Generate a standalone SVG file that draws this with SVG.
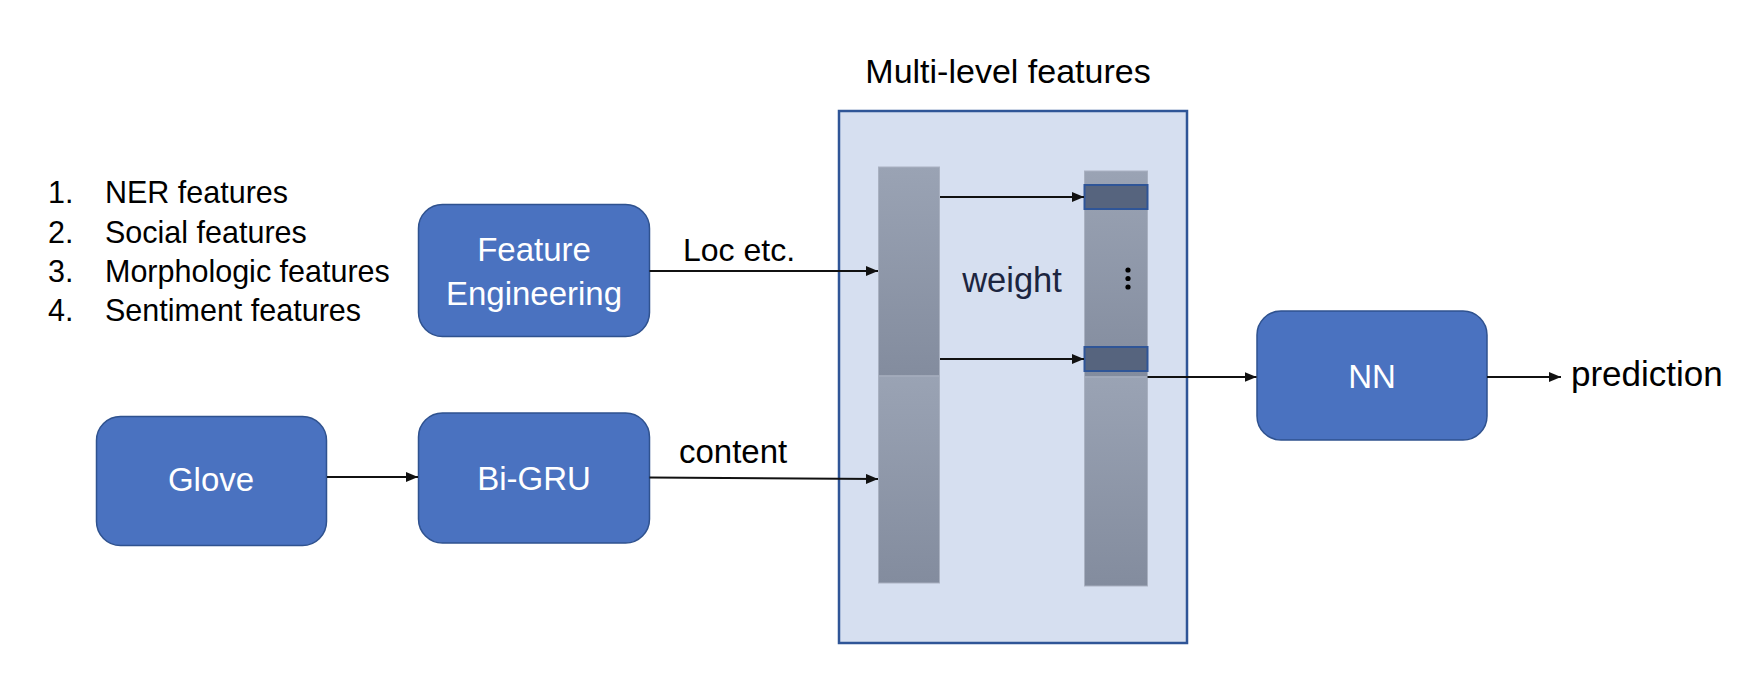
<svg xmlns="http://www.w3.org/2000/svg" width="1754" height="682" viewBox="0 0 1754 682">
<defs>
  <linearGradient id="bar" x1="0" y1="0" x2="0" y2="1">
    <stop offset="0" stop-color="#9AA3B4"/>
    <stop offset="1" stop-color="#838C9E"/>
  </linearGradient>
  <marker id="ah" viewBox="0 0 12 10" refX="12" refY="5" markerWidth="12" markerHeight="10" markerUnits="userSpaceOnUse" orient="auto">
    <path d="M0,0 L12,5 L0,10 z" fill="#111"/>
  </marker>
</defs>
<style>
  .node rect{fill:#4A72C0;stroke:#2F528F;stroke-width:1.5}
  .lbl{font-family:"Liberation Sans",Arial,sans-serif;fill:#fff;font-size:33px;text-anchor:middle}
  .txt{font-family:"Liberation Sans",Arial,sans-serif;fill:#000}
  .seg{fill:url(#bar);stroke:#A9B1C1;stroke-width:1}
  .cell{fill:#56647E;stroke:#2F5597;stroke-width:2}
  #connectors line{stroke:#111;stroke-width:2;marker-end:url(#ah)}
</style>
<rect width="1754" height="682" fill="#fff"/>

<g id="list" class="txt" font-size="30.5">
  <text x="48" y="203">1.</text><text x="105" y="203">NER features</text>
  <text x="48" y="242.5">2.</text><text x="105" y="242.5">Social features</text>
  <text x="48" y="281.5">3.</text><text x="105" y="281.5">Morphologic features</text>
  <text x="48" y="320.5">4.</text><text x="105" y="320.5">Sentiment features</text>
</g>

<g id="multilevel">
  <text class="txt" x="1008" y="83" font-size="34" text-anchor="middle">Multi-level features</text>
  <rect x="839" y="111" width="348" height="532" fill="#D6DFF0" stroke="#2F5597" stroke-width="2.5"/>
  <rect class="seg" x="878.5" y="167" width="61" height="209"/>
  <rect class="seg" x="878.5" y="376" width="61" height="207"/>
  <rect class="seg" x="1084.5" y="171" width="63" height="206"/>
  <rect class="seg" x="1084.5" y="377" width="63" height="209"/>
  <rect class="cell" x="1084.5" y="185" width="63" height="24"/>
  <rect class="cell" x="1084.5" y="347" width="63" height="24"/>
  <circle cx="1128" cy="270" r="2.6" fill="#000"/>
  <circle cx="1128" cy="278.5" r="2.6" fill="#000"/>
  <circle cx="1128" cy="287" r="2.6" fill="#000"/>
  <text class="txt" x="1012" y="292" font-size="34.5" text-anchor="middle" style="fill:#1C2540">weight</text>
</g>

<g id="feature-engineering" class="node">
  <rect x="418.5" y="204.5" width="231" height="132" rx="24"/>
  <text class="lbl" x="534" y="261">Feature</text>
  <text class="lbl" x="534" y="305">Engineering</text>
</g>
<g id="glove" class="node">
  <rect x="96.5" y="416.5" width="230" height="129" rx="24"/>
  <text class="lbl" x="211" y="491">Glove</text>
</g>
<g id="bi-gru" class="node">
  <rect x="418.5" y="413" width="231" height="130" rx="24"/>
  <text class="lbl" x="534" y="490">Bi-GRU</text>
</g>
<g id="nn" class="node">
  <rect x="1257" y="311" width="230" height="129" rx="24"/>
  <text class="lbl" x="1372" y="388">NN</text>
</g>

<g id="connectors">
  <line x1="649.5" y1="271" x2="878" y2="271"/>
  <line x1="649.5" y1="477.5" x2="878" y2="479"/>
  <line x1="327" y1="477" x2="418" y2="477"/>
  <line x1="940" y1="197" x2="1084" y2="197"/>
  <line x1="940" y1="359" x2="1084" y2="359"/>
  <line x1="1147.5" y1="377" x2="1256.5" y2="377"/>
  <line x1="1487" y1="377" x2="1561" y2="377"/>
</g>

<g id="labels" class="txt">
  <text x="683" y="261" font-size="32">Loc etc.</text>
  <text x="679" y="463" font-size="33">content</text>
  <text x="1571" y="386" font-size="35">prediction</text>
</g>
</svg>
